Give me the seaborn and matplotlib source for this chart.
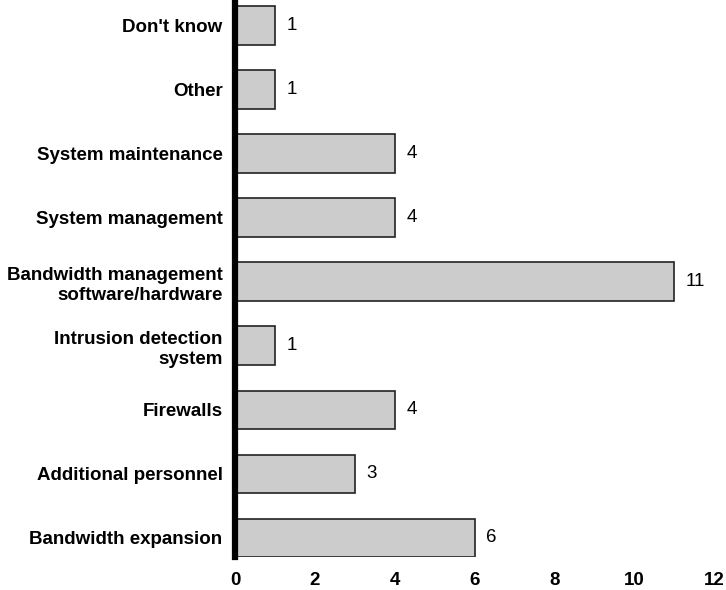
import pandas as pd
import matplotlib
matplotlib.use("Agg")
import matplotlib.pyplot as plt
import seaborn as sns

# data, top to bottom as in the chart
categories = ["Don't know", "Other", "System maintenance", "System management",
              "Bandwidth management\nsoftware/hardware", "Intrusion detection\nsystem",
              "Firewalls", "Additional personnel", "Bandwidth expansion"]
counts = [1, 1, 4, 4, 11, 1, 4, 3, 6]
xticks = [0, 2, 4, 6, 8, 10, 12]

df = pd.DataFrame({"category": categories, "count": counts})

sns.set_style("white")
plt.rcParams['font.family'] = ['Liberation Sans', 'DejaVu Sans']
plt.rcParams['text.color'] = 'black'
plt.rcParams['xtick.color'] = 'black'
plt.rcParams['ytick.color'] = 'black'

fig = plt.figure(figsize=(7.26, 5.9), dpi=100)
ax = fig.add_axes([0.3237, 0.056, 0.6598, 0.944])

sns.barplot(data=df, x="count", y="category", color="#cccccc", edgecolor="#222222",
            linewidth=1.2, width=0.6, saturation=1, ax=ax)

for i, v in enumerate(counts):
    ax.text(v + 0.3, i, str(v), va="center", ha="left", fontsize=13.5)

ax.set_xlim(0, 12)
ax.set_ylim(len(categories) - 1 + 0.3, -0.4)
ax.set_xticks(xticks)
ax.set_xticklabels([str(t) for t in xticks], fontweight="bold", fontsize=13.5)
ax.set_yticklabels(categories, fontweight="bold", fontsize=13.5, linespacing=1.25)
ax.set_xlabel("")
ax.set_ylabel("")
ax.tick_params(axis="both", length=0)
ax.tick_params(axis="x", pad=11)
ax.tick_params(axis="y", pad=9)

for s in ["top", "right", "bottom"]:
    ax.spines[s].set_visible(False)
ax.spines["left"].set_linewidth(4.5)
ax.spines["left"].set_color("black")

fig.savefig("out.png", dpi=100)
